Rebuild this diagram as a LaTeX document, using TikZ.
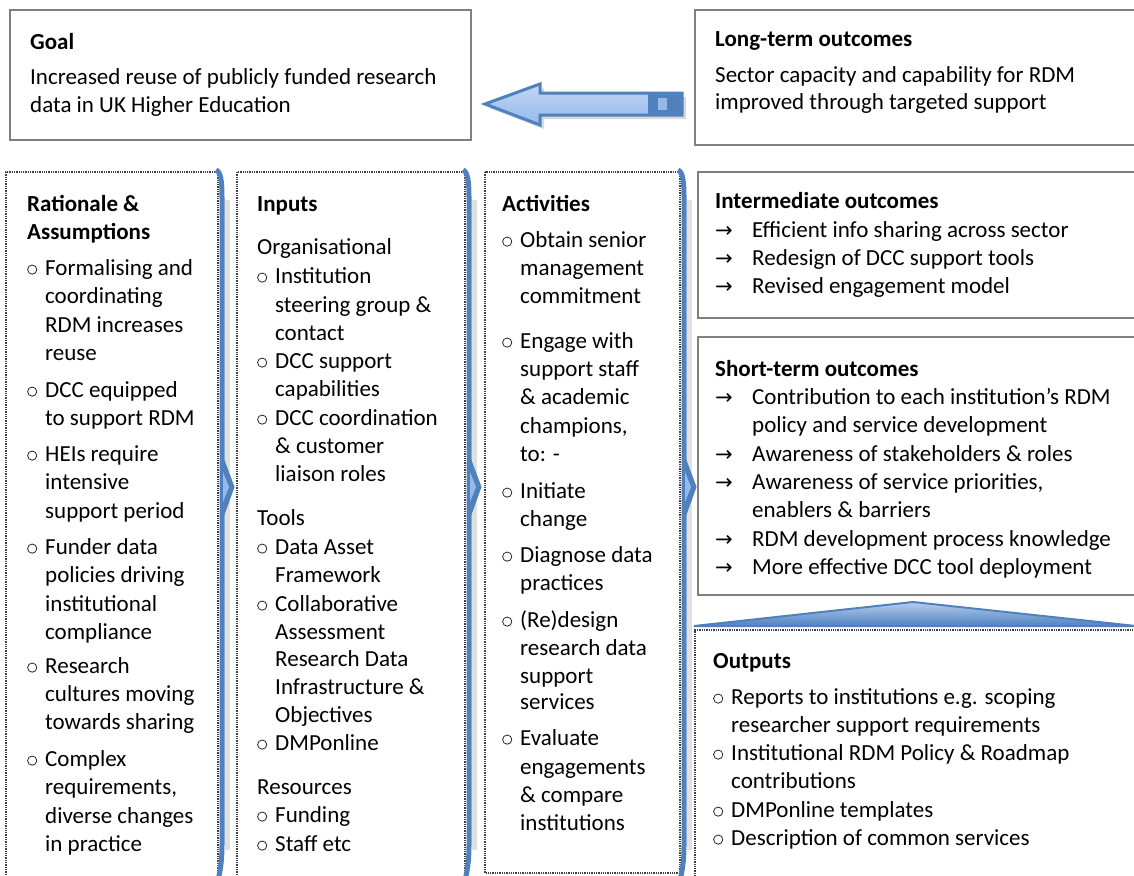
\documentclass[tikz,border=0pt]{standalone}
\usepackage{fontspec}
\setmainfont{Carlito}
\newfontfamily\arrfont{DejaVu Sans}
\usetikzlibrary{positioning}
\definecolor{boxgray}{RGB}{128,128,128}
\definecolor{sepblue}{RGB}{79,129,189}
\definecolor{seplight}{RGB}{150,185,235}
\newcommand{\itembul}{\makebox[18pt][l]{\tikz[baseline=0pt]\draw[line width=0.8pt, black!85] (5.6pt,5.4pt) circle (4.6pt);}}
\newcommand{\itemind}{\hspace*{18pt}}
\newcommand{\outarrow}{\makebox[37pt][l]{\arrfont\fontsize{21}{23}\selectfont →}}

\begin{document}
\begin{tikzpicture}[x=1pt, y=-1pt,
    txt/.style={anchor=base west, inner sep=0pt, font=\fontsize{23}{28.3}\selectfont},
    boxline/.style={draw=boxgray, line width=2.5pt},
    colline/.style={densely dotted, line width=1.3pt, black!75},
    sepline/.style={draw=sepblue, line width=5pt},
    sepshade/.style={draw=black!12, line width=5pt}]
    \useasboundingbox (0,0) rectangle (1134,875);
    \clip (0,0) rectangle (1134,875);

    % boxes
    \draw[boxline] (10,10) rectangle (471,140);
    \draw[boxline] (695,10) rectangle (1150,145);
    \draw[boxline] (698,172) rectangle (1150,318);
    \draw[boxline] (698,337) rectangle (1150,595);

    % dotted columns
    \draw[colline] (218,880) -- (218,172) -- (6,172) -- (6,880);
    \draw[colline] (465,880) -- (465,172) -- (237,172) -- (237,880);
    \draw[colline] (485,172) rectangle (680,873);
    \draw[colline] (1140,630) -- (695,630) -- (695,880);

    % blue separators
    \foreach \x in {222,469,684} {
        \draw[sepshade] (\x+5,200) -- (\x+5,850);
        \draw[sepline] (\x-6,170) .. controls (\x-1,172) and (\x,182) .. (\x,198)
            -- (\x,845) .. controls (\x,862) and (\x-2,872) .. (\x-4,880);
        \filldraw[fill=sepblue, draw=sepblue, line width=1pt] (\x,455) -- (\x+12,487) -- (\x,520) -- cycle;
        \fill[seplight] (\x+1,472) -- (\x+7,487) -- (\x+1,502) -- cycle;
    }

    % block arrow
    \fill[black!15] (489,108) -- (544,88) -- (544,97) -- (686,97) -- (686,119) -- (544,119) -- (544,129) -- cycle;
    \filldraw[top color=seplight!60!white, bottom color=seplight, draw=sepblue, line width=3pt]
        (485,104) -- (540,84) -- (540,93) -- (682,93) -- (682,115) -- (540,115) -- (540,125) -- cycle;
    \fill[sepblue] (648,93) rectangle (682,115);
    \fill[seplight] (658,98) rectangle (667,110);

    % roof
    \filldraw[top color=seplight!70!white, bottom color=sepblue, draw=sepblue, line width=2pt]
        (694,626) -- (913,602) -- (1136,626) -- cycle;

    % Goal
    \foreach \y/\t [count=\i] in {49/{\bfseries Goal},
        84/{Increased reuse of publicly funded research},
        112/{data in UK Higher Education}}
        \node[txt] (Goal\i) at (30,\y) {\t};

    % Long-term outcomes
    \foreach \y/\t [count=\i] in {47/{\bfseries Long-term outcomes},
        82/{Sector capacity and capability for RDM},
        109/{improved through targeted support}}
        \node[txt] (Long\i) at (715,\y) {\t};

    % Rationale
    \foreach \y/\t [count=\i] in {211/{\bfseries Rationale \&}, 239/{\bfseries Assumptions},
        275/{\itembul Formalising and}, 303/{\itemind coordinating}, 332/{\itemind RDM increases}, 360/{\itemind reuse},
        397/{\itembul DCC equipped}, 425/{\itemind to support RDM},
        461/{\itembul HEIs require}, 489/{\itemind intensive}, 518/{\itemind support period},
        554/{\itembul Funder data}, 582/{\itemind policies driving}, 611/{\itemind institutional}, 639/{\itemind compliance},
        673/{\itembul Research}, 701/{\itemind cultures moving}, 729/{\itemind towards sharing},
        766/{\itembul Complex}, 794/{\itemind requirements,}, 823/{\itemind diverse changes}, 851/{\itemind in practice}}
        \node[txt] (Rationale\i) at (27,\y) {\t};

    % Inputs
    \foreach \y/\t [count=\i] in {211/{\bfseries Inputs}, 254/{Organisational},
        283/{\itembul Institution}, 312/{\itemind steering group \&}, 340/{\itemind contact},
        368/{\itembul DCC support}, 396/{\itemind capabilities},
        425/{\itembul DCC coordination}, 453/{\itemind \& customer}, 481/{\itemind liaison roles},
        525/{Tools},
        554/{\itembul Data Asset}, 582/{\itemind Framework},
        611/{\itembul Collaborative}, 639/{\itemind Assessment}, 666/{\itemind Research Data},
        694/{\itemind Infrastructure \&}, 722/{\itemind Objectives},
        750/{\itembul DMPonline},
        794/{Resources}, 822/{\itembul Funding}, 851/{\itembul Staff etc}}
        \node[txt] (Inputs\i) at (257,\y) {\t};

    % Activities
    \foreach \y/\t [count=\i] in {211/{\bfseries Activities},
        247/{\itembul Obtain senior}, 275/{\itemind management}, 303/{\itemind commitment},
        348/{\itembul Engage with}, 376/{\itemind support staff}, 404/{\itemind \& academic},
        433/{\itemind champions,}, 461/{\itemind to: -},
        498/{\itembul Initiate}, 526/{\itemind change},
        562/{\itembul Diagnose data}, 590/{\itemind practices},
        627/{\itembul (Re)design}, 655/{\itemind research data}, 683/{\itemind support}, 709/{\itemind services},
        745/{\itembul Evaluate}, 774/{\itemind engagements}, 802/{\itemind \& compare}, 830/{\itemind institutions}}
        \node[txt] (Activities\i) at (502,\y) {\t};

    % Intermediate outcomes
    \foreach \y/\t [count=\i] in {208/{\bfseries Intermediate outcomes},
        237/{\outarrow Efficient info sharing across sector},
        265/{\outarrow Redesign of DCC support tools},
        293/{\outarrow Revised engagement model}}
        \node[txt] (Mid\i) at (715,\y) {\t};

    % Short-term outcomes
    \foreach \y/\t [count=\i] in {376/{\bfseries Short-term outcomes},
        404/{\outarrow Contribution to each institution’s RDM},
        432/{\hspace*{37pt}policy and service development},
        461/{\outarrow Awareness of stakeholders \& roles},
        489/{\outarrow Awareness of service priorities,},
        517/{\hspace*{37pt}enablers \& barriers},
        546/{\outarrow RDM development process knowledge},
        574/{\outarrow More effective DCC tool deployment}}
        \node[txt] (Short\i) at (715,\y) {\t};

    % Outputs
    \foreach \y/\t [count=\i] in {668/{\bfseries Outputs},
        704/{\itembul Reports to institutions e.g. scoping},
        732/{\itemind researcher support requirements},
        760/{\itembul Institutional RDM Policy \& Roadmap},
        788/{\itemind contributions},
        817/{\itembul DMPonline templates},
        845/{\itembul Description of common services}}
        \node[txt] (Outputs\i) at (713,\y) {\t};
\end{tikzpicture}
\end{document}
